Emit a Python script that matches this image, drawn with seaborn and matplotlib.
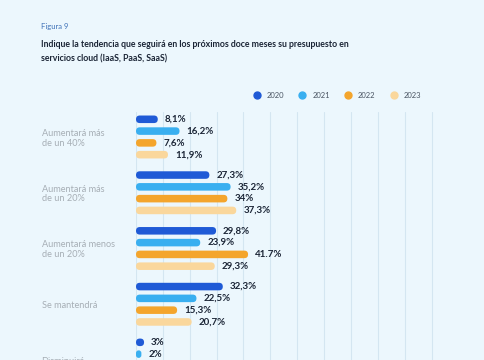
import matplotlib
matplotlib.use("Agg")
from matplotlib import pyplot as plt
from matplotlib.lines import Line2D
from matplotlib.patches import FancyBboxPatch
import seaborn as sns
import pandas as pd

# data
CATEGORIES = ['Aumentará más\nde un 40%', 'Aumentará más\nde un 20%', 'Aumentará menos\nde un 20%',
              'Se mantendrá', 'Disminuirá']
YEARS = ['2020', '2021', '2022', '2023']
V2020 = [8.1, 27.3, 29.8, 32.3, 3]
V2021 = [16.2, 35.2, 23.9, 22.5, 2]
V2022 = [7.6, 34, 41.7, 15.3, 1.5]
V2023 = [11.9, 37.3, 29.3, 20.7, 1]
LABELS = {
    '2020': ['8,1%', '27,3%', '29,8%', '32,3%', '3%'],
    '2021': ['16,2%', '35,2%', '23,9%', '22,5%', '2%'],
    '2022': ['7,6%', '34%', '41.7%', '15,3%', ''],
    '2023': ['11,9%', '37,3%', '29,3%', '20,7%', ''],
}
COLORS = ['#1f5ad6', '#39aff0', '#f4a52c', '#fad79c']

BG = '#ecf7fd'
DARK = '#1b2536'

rows = []
for year, vals in zip(YEARS, [V2020, V2021, V2022, V2023]):
    for cat, v in zip(CATEGORIES, vals):
        rows.append([cat, year, v])
df = pd.DataFrame(rows, columns=['Categoria', 'Año', 'Valor'])

sns.set_style('white')
plt.rcParams['font.family'] = ['Lato', 'DejaVu Sans']

fig = plt.figure(figsize=(4.85, 3.6), dpi=100, facecolor=BG)
ax_w, ax_h = 301, 273  # axes size in px
ax = fig.add_axes([136 / 485, (360 - 385) / 360, ax_w / 485, ax_h / 360])
ax.set_facecolor(BG)

# bar thickness ~7px out of a 11.8px slot
sns.barplot(data=df, y='Categoria', x='Valor', hue='Año', order=CATEGORIES, hue_order=YEARS,
            palette=COLORS, saturation=1, width=0.846, gap=0.36, orient='h', ax=ax, legend=False)

xmax, ylo, yhi = 112, 4.448, -0.448
ax.set_xlim(0, xmax)
ax.set_ylim(ylo, yhi)
ax.set_xticks(range(0, 111, 10))
ax.xaxis.grid(True, color='#d4e6f1', linewidth=0.8)
ax.set_axisbelow(True)
ax.tick_params(axis='x', length=0, labelbottom=False)
ax.set_xlabel('')
ax.set_ylabel('')
for s in ax.spines.values():
    s.set_visible(False)

# swap the flat bars for pill shapes
xpp = xmax / ax_w
ypp = (ylo - yhi) / ax_h
for cont in ax.containers:
    for p in cont.patches:
        x, y, w, h = p.get_x(), p.get_y(), p.get_width(), p.get_height()
        if w <= 0:
            continue
        r = min(h / ypp / 2 * xpp, w / 2)
        pill = FancyBboxPatch((x, y), w, h, boxstyle=f'round,pad=0,rounding_size={r}',
                              mutation_aspect=ypp / xpp, facecolor=p.get_facecolor(),
                              edgecolor='none', zorder=2)
        ax.add_patch(pill)
        p.set_visible(False)

for cont, year in zip(ax.containers, YEARS):
    ax.bar_label(cont, labels=LABELS[year], padding=5, fontsize=7, fontweight='bold', color=DARK)

ax.tick_params(axis='y', length=0, pad=68)
for t in ax.get_yticklabels():
    t.set_horizontalalignment('left')
    t.set_color('#a6aeb5')
    t.set_fontsize(6.6)
    t.set_linespacing(1.1)

fig.text(41 / 485, 1 - 27 / 360, 'Figura 9', fontsize=5.5, color='#3f72b8', va='center')
fig.text(41 / 485, 1 - 51.5 / 360,
         'Indique la tendencia que seguirá en los próximos doce meses su presupuesto en\n'
         'servicios cloud (IaaS, PaaS, SaaS)',
         fontsize=6.3, fontweight='bold', color=DARK, va='center', linespacing=1.75)

handles = [Line2D([], [], marker='o', linestyle='', markersize=5, color=c) for c in COLORS]
fig.legend(handles, YEARS, loc='center left', bbox_to_anchor=(242 / 485, 1 - 95 / 360), ncol=4,
           frameon=False, fontsize=5.5, handletextpad=0.3, columnspacing=1.4, labelcolor='#4a5563')

fig.savefig('out.png', dpi=100, facecolor=BG)
